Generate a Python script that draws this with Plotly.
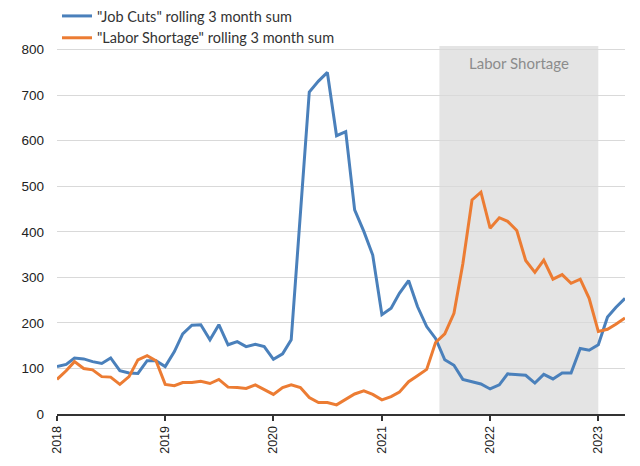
import plotly.graph_objects as go
import pandas as pd

months = pd.date_range("2018-01-01", "2023-04-01", freq="MS").strftime("%Y-%m-%d").tolist()

job_cuts = [
    104, 109, 123, 121, 115, 111, 123, 95, 90, 89, 117, 117,   # 2018
    104, 137, 176, 195, 196, 163, 196, 152, 159, 148, 153, 148,  # 2019
    120, 132, 163, 450, 707, 731, 750, 611, 620, 448, 401, 349,  # 2020
    218, 232, 265, 293, 236, 192, 166, 119, 107, 76, 71, 66,     # 2021
    55, 64, 88, 87, 85, 68, 87, 77, 90, 90, 144, 140,            # 2022
    152, 213, 234, 254,                                          # 2023
]

labor_shortage = [
    76, 95, 115, 100, 97, 82, 81, 65, 82, 119, 128, 117,         # 2018
    65, 62, 69, 69, 72, 67, 76, 59, 58, 56, 64, 54,              # 2019
    43, 58, 64, 58, 36, 25, 25, 20, 32, 44, 51, 43,              # 2020
    31, 38, 48, 71, 84, 98, 157, 176, 221, 330, 470, 487,        # 2021
    408, 431, 423, 403, 337, 311, 338, 296, 306, 287, 296, 254,  # 2022
    181, 186, 197, 211,                                          # 2023
]

series_names = ['"Job Cuts" rolling 3 month sum', '"Labor Shortage" rolling 3 month sum']
series_colors = ["#4a80bb", "#ec7c33"]

shade_start = "2021-07-14"
shade_end = "2023-01-01"
shade_label = "Labor Shortage"

x_ticks = ["2018-01-01", "2019-01-01", "2020-01-01", "2021-01-01", "2022-01-01", "2023-01-01"]
x_tick_text = ["2018", "2019", "2020", "2021", "2022", "2023"]
y_ticks = [0, 100, 200, 300, 400, 500, 600, 700, 800]

fig = go.Figure()
for name, vals, col in zip(series_names, [job_cuts, labor_shortage], series_colors):
    fig.add_trace(go.Scatter(x=months, y=vals, mode="lines", name=name,
                             line=dict(color=col, width=3)))

fig.add_shape(type="rect", xref="x", yref="paper", x0=shade_start, x1=shade_end,
              y0=0, y1=1, fillcolor="#e4e4e4", line=dict(width=0), layer="below")
fig.add_annotation(x="2022-04-08", y=770, xref="x", yref="y", text=shade_label,
                   showarrow=False, font=dict(family="Lato", size=15, color="#8c8c8c"))

fig.update_layout(
    width=640, height=466,
    margin=dict(l=49, r=23, t=38, b=60, autoexpand=False),
    paper_bgcolor="white", plot_bgcolor="white",
    showlegend=True,
    legend=dict(x=0.0, y=1.125, xanchor="left", yanchor="top",
                font=dict(family="Lato", size=14.5, color="#333333"),
                bgcolor="rgba(0,0,0,0)", tracegroupgap=0, itemwidth=30),
    font=dict(family="Liberation Sans", size=14, color="#222222"),
)
fig.update_xaxes(type="date", range=["2018-01-01", "2023-04-01"],
                 tickvals=x_ticks, ticktext=x_tick_text, tickangle=-90,
                 showgrid=False, showline=True, linecolor="#333333", linewidth=2,
                 ticks="outside", ticklen=5, tickcolor="#333333", tickwidth=1.5,
                 tickfont=dict(family="Liberation Sans", size=12.5, color="#222222"))
fig.update_yaxes(range=[0, 808], tickvals=y_ticks, showgrid=True,
                 gridcolor="#d9d9d9", gridwidth=1, zeroline=False, showline=False,
                 ticks="", ticklabelstandoff=12,
                 tickfont=dict(family="Liberation Sans", size=13.5, color="#222222"))

fig.write_html("out.html")
